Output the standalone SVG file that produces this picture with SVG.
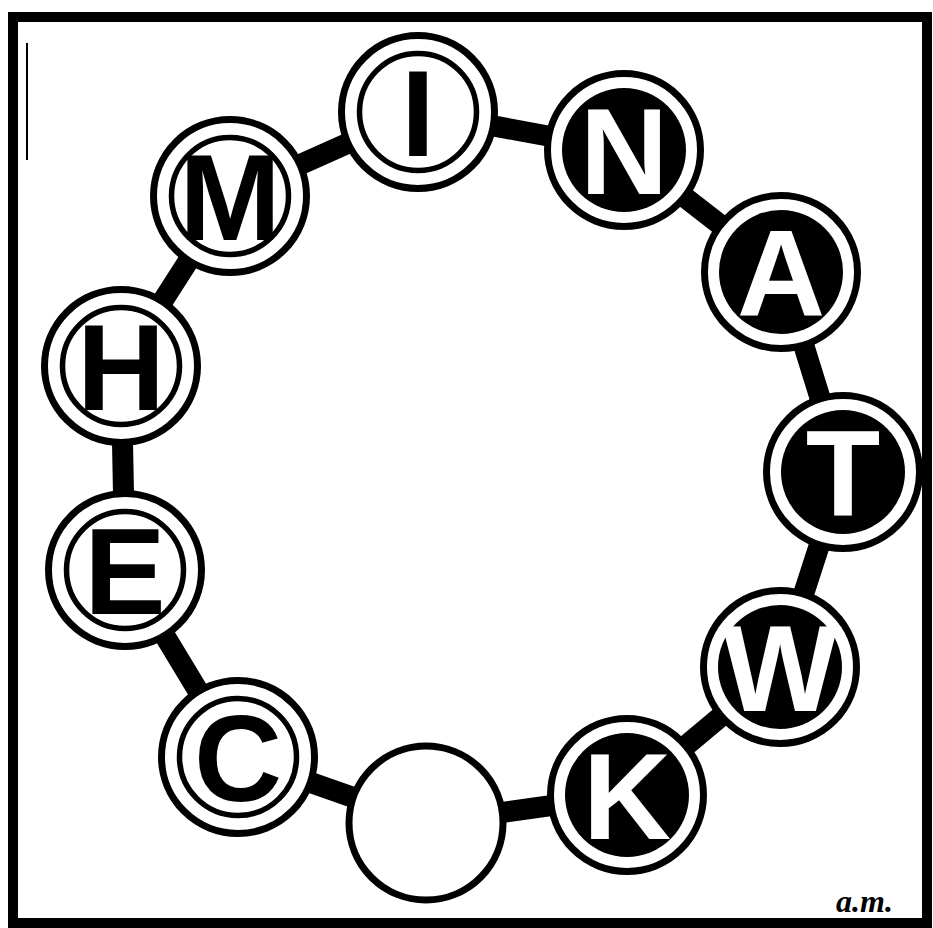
<svg xmlns="http://www.w3.org/2000/svg" width="933" height="928" viewBox="0 0 933 928">
<style>
.frame{fill:none;stroke:#000;stroke-width:10}
.con{stroke:#000;stroke-width:21;stroke-linecap:butt;fill:none}
.outer{fill:#fff;stroke:#000;stroke-width:7}
.inW{fill:#fff;stroke:#000;stroke-width:5.5}
.inB{fill:#000;stroke:none}
.lt{font-family:"Liberation Sans",Arial,sans-serif;font-weight:bold;font-size:122px;text-anchor:middle}
.lw{fill:#000}
.lb{fill:#fff}
.sig{font-family:"Liberation Serif","Times New Roman",serif;font-style:italic;font-weight:bold;font-size:32px;fill:#000}
</style>
<rect width="933" height="928" fill="#fff"/>
<rect class="frame" x="13" y="17" width="914" height="906"/>
<line x1="27" y1="43" x2="27" y2="160" stroke="#000" stroke-width="2"/>
<g id="connectors">
<polygon class="con" points="418,112 624,150 781,272 843,472 780,667 627,795 426,823 238,757 125,570 121,366 230,196"/>
</g>
<g id="node-I"><circle class="outer" cx="418" cy="112" r="76.5"/><circle class="inW" cx="418" cy="112" r="58.5"/><text class="lt lw" x="418" y="156">I</text></g>
<g id="node-N"><circle class="outer" cx="624" cy="150" r="76.5"/><circle class="inB" cx="624" cy="150" r="62"/><text class="lt lb" x="624" y="194">N</text></g>
<g id="node-A"><circle class="outer" cx="781" cy="272" r="76.5"/><circle class="inB" cx="781" cy="272" r="62"/><text class="lt lb" x="781" y="316">A</text></g>
<g id="node-T"><circle class="outer" cx="843" cy="472" r="76.5"/><circle class="inB" cx="843" cy="472" r="62"/><text class="lt lb" x="843" y="516">T</text></g>
<g id="node-W"><circle class="outer" cx="780" cy="667" r="76.5"/><circle class="inB" cx="780" cy="667" r="62"/><text class="lt lb" x="780" y="711">W</text></g>
<g id="node-K"><circle class="outer" cx="627" cy="795" r="76.5"/><circle class="inB" cx="627" cy="795" r="62"/><text class="lt lb" x="627" y="839">K</text></g>
<g id="node-empty"><circle class="outer" cx="426" cy="823" r="77"/></g>
<g id="node-C"><circle class="outer" cx="238" cy="757" r="76.5"/><circle class="inW" cx="238" cy="757" r="58.5"/><text class="lt lw" x="238" y="801">C</text></g>
<g id="node-E"><circle class="outer" cx="125" cy="570" r="76.5"/><circle class="inW" cx="125" cy="570" r="58.5"/><text class="lt lw" x="125" y="614">E</text></g>
<g id="node-H"><circle class="outer" cx="121" cy="366" r="76.5"/><circle class="inW" cx="121" cy="366" r="58.5"/><text class="lt lw" x="121" y="410">H</text></g>
<g id="node-M"><circle class="outer" cx="230" cy="196" r="76.5"/><circle class="inW" cx="230" cy="196" r="58.5"/><text class="lt lw" x="230" y="240">M</text></g>
<text class="sig" x="836" y="912">a.m.</text>
</svg>
